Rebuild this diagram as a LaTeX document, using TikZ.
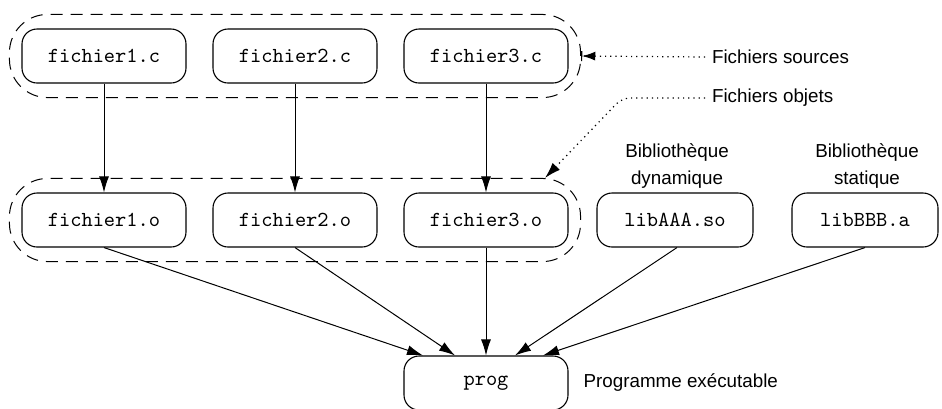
\documentclass[tikz,border=0pt]{standalone}
\usepackage{fontspec}
\setmainfont{Liberation Sans}
\usepackage{tikz}
\usetikzlibrary{arrows.meta,positioning,fit}

\begin{document}
\begin{tikzpicture}[
    x=0.5pt, y=-0.5pt,
    font=\fontsize{9.4}{13.5}\selectfont,
    file/.style={rectangle, draw, line width=0.55pt, rounded corners=7.5pt, minimum width=82pt, minimum height=27pt, inner sep=0pt, font=\fontsize{10.7}{12}\selectfont\ttfamily},
    group/.style={rectangle, draw, dash pattern=on 6pt off 4pt, line width=0.5pt, rounded corners=19pt, inner xsep=6pt, inner ysep=7pt},
    arrow/.style={-{Latex[length=8pt,width=5pt]}, line width=0.5pt},
    note/.style={dash pattern=on 0.6pt off 2pt, line width=0.6pt},
    label/.style={align=center}
]
\useasboundingbox (0,0) rectangle (942,408);

% sources
\node[file] (src1) at (104,56) {fichier1.c};
\node[file] (src2) at (295,56) {fichier2.c};
\node[file] (src3) at (486,56) {fichier3.c};

% objets et bibliotheques
\node[file] (obj1) at (104,220) {fichier1.o};
\node[file] (obj2) at (295,220) {fichier2.o};
\node[file] (obj3) at (486,220) {fichier3.o};
\node[file, minimum width=78pt] (libdyn) at (675,220) {libAAA.so};
\node[file, minimum width=73pt] (libsta) at (865,220) {libBBB.a};

% executable
\node[file] (prog) at (486,383) {prog};

% groupes
\node[group, fit=(src1)(src3)] (grpsrc) {};
\node[group, fit=(obj1)(obj3)] (grpobj) {};

% legendes
\node[anchor=west] (srclbl) at (705,57) {Fichiers sources};
\node[anchor=west] (objlbl) at (705,98) {Fichiers objets};
\node[label] (dynlbl) at (677,166) {Bibliothèque\\dynamique};
\node[label] (stalbl) at (867,166) {Bibliothèque\\statique};
\node[right=4pt of prog] (proglbl) {Programme exécutable};

\coordinate (bend) at (622,98);
\coordinate (objtip) at ([shift={(-36,0)}]grpobj.north east);

\draw[note, -{Latex[length=6.5pt,width=4.5pt]Bar[width=5pt]}] (srclbl.west) -- (grpsrc.east);
\draw[note, rounded corners=4pt, -{Latex[length=8pt,width=5pt]}] (objlbl.west) -- (bend) -- (objtip);

% compilation
\draw[arrow] (src1) -- (obj1);
\draw[arrow] (src2) -- (obj2);
\draw[arrow] (src3) -- (obj3);

% edition des liens
\draw[arrow] (obj1.south) -- ([shift={(-63,0)}]prog.north);
\draw[arrow] (obj2.south) -- ([shift={(-31,0)}]prog.north);
\draw[arrow] (obj3.south) -- (prog.north);
\draw[arrow] ([shift={(2,0)}]libdyn.south) -- ([shift={(29,0)}]prog.north);
\draw[arrow] (libsta.south) -- ([shift={(57,0)}]prog.north);

\end{tikzpicture}
\end{document}
